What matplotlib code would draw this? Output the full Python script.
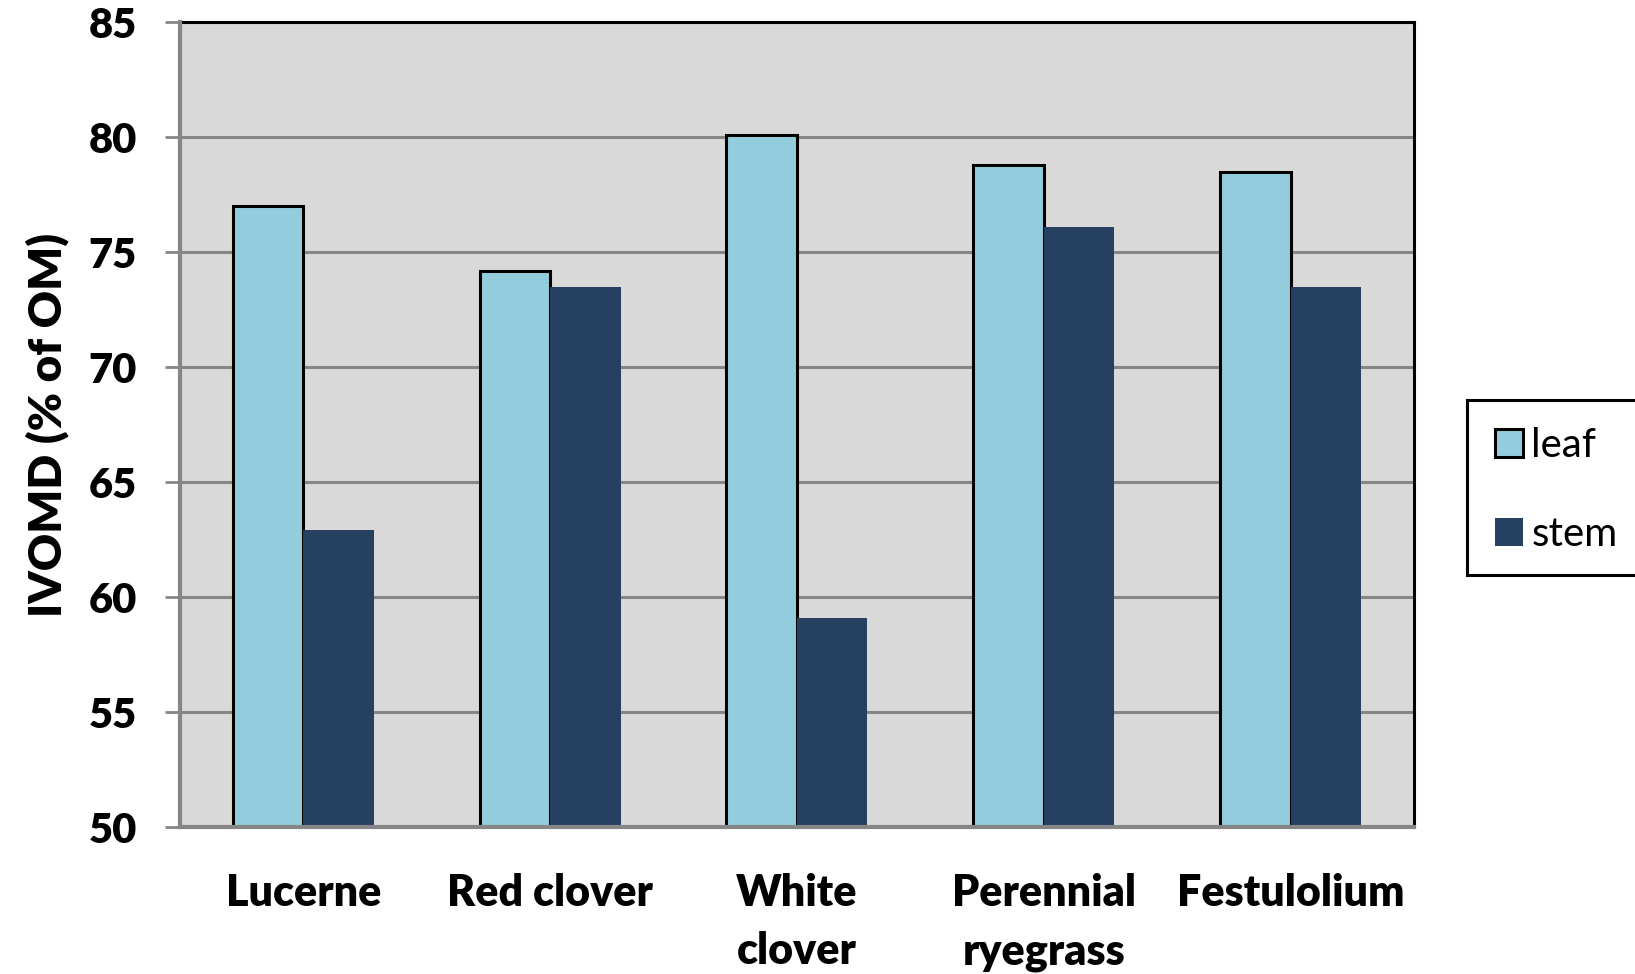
import numpy as np
import matplotlib
matplotlib.use("Agg")
from matplotlib import pyplot as plt
from matplotlib.patches import Rectangle, Patch

plt.rcParams['font.family'] = ['Lato', 'DejaVu Sans']

species = ["Lucerne", "Red clover", "White\nclover", "Perennial\nryegrass", "Festulolium"]
leaf = [77.0, 74.2, 80.1, 78.8, 78.5]
stem = [62.9, 73.5, 59.1, 76.1, 73.5]
yticks = [50, 55, 60, 65, 70, 75, 80, 85]

leaf_color = "#93CDDD"
stem_color = "#254061"
grid_color = "#868686"

fig = plt.figure(figsize=(16.35, 9.74), dpi=100)
ax = fig.add_axes([0.1101, 0.1509, 0.7547, 0.826])
ax.set_facecolor("#D9D9D9")

x = np.arange(len(species))
w = 1 / 3.5
ax.bar(x - w / 2, leaf, w, color=leaf_color, edgecolor="black",
       linewidth=2.2, zorder=3)
ax.bar(x + w / 2, stem, w, color=stem_color, linewidth=0, zorder=3)

ax.set_xlim(-0.5, len(species) - 0.5)
ax.set_ylim(50, 85)
ax.set_yticks(yticks)
ax.set_yticklabels([str(t) for t in yticks], fontsize=30, fontweight="heavy")
ax.set_xticks(x)
ax.set_xticklabels(species, fontsize=31, fontweight="heavy", linespacing=1.55)
ax.tick_params(axis="x", length=0, pad=33)
ax.tick_params(axis="y", length=11, width=2, color=grid_color, pad=20)
ax.yaxis.grid(True, color=grid_color, linewidth=2.2, zorder=1)
ax.set_axisbelow(True)

for side in ["left", "bottom"]:
    ax.spines[side].set_color(grid_color)
    ax.spines[side].set_linewidth(3)
    ax.spines[side].set_zorder(4)
for side in ["top", "right"]:
    ax.spines[side].set_color("black")
    ax.spines[side].set_linewidth(2.2)

ax.set_ylabel("IVOMD (% of OM)", fontsize=33, fontweight="heavy", labelpad=14)

# legend box runs off the right edge of the figure
fig.patches.append(Rectangle((1467 / 1635, 1 - 575 / 974), 0.2, 175 / 974,
                             transform=fig.transFigure, facecolor="white",
                             edgecolor="black", linewidth=2.2, clip_on=False))
handles = [Patch(facecolor=leaf_color, edgecolor="black", linewidth=2.2, label="leaf"),
           Patch(facecolor=stem_color, linewidth=0, label="stem")]
fig.legend(handles=handles, loc="center left",
           bbox_to_anchor=(1495 / 1635, 1 - 490 / 974), frameon=False,
           fontsize=29, handlelength=0.7, handleheight=0.7, handletextpad=0.2,
           labelspacing=1.28, borderaxespad=0, borderpad=0)

fig.savefig("out.png", dpi=100)
